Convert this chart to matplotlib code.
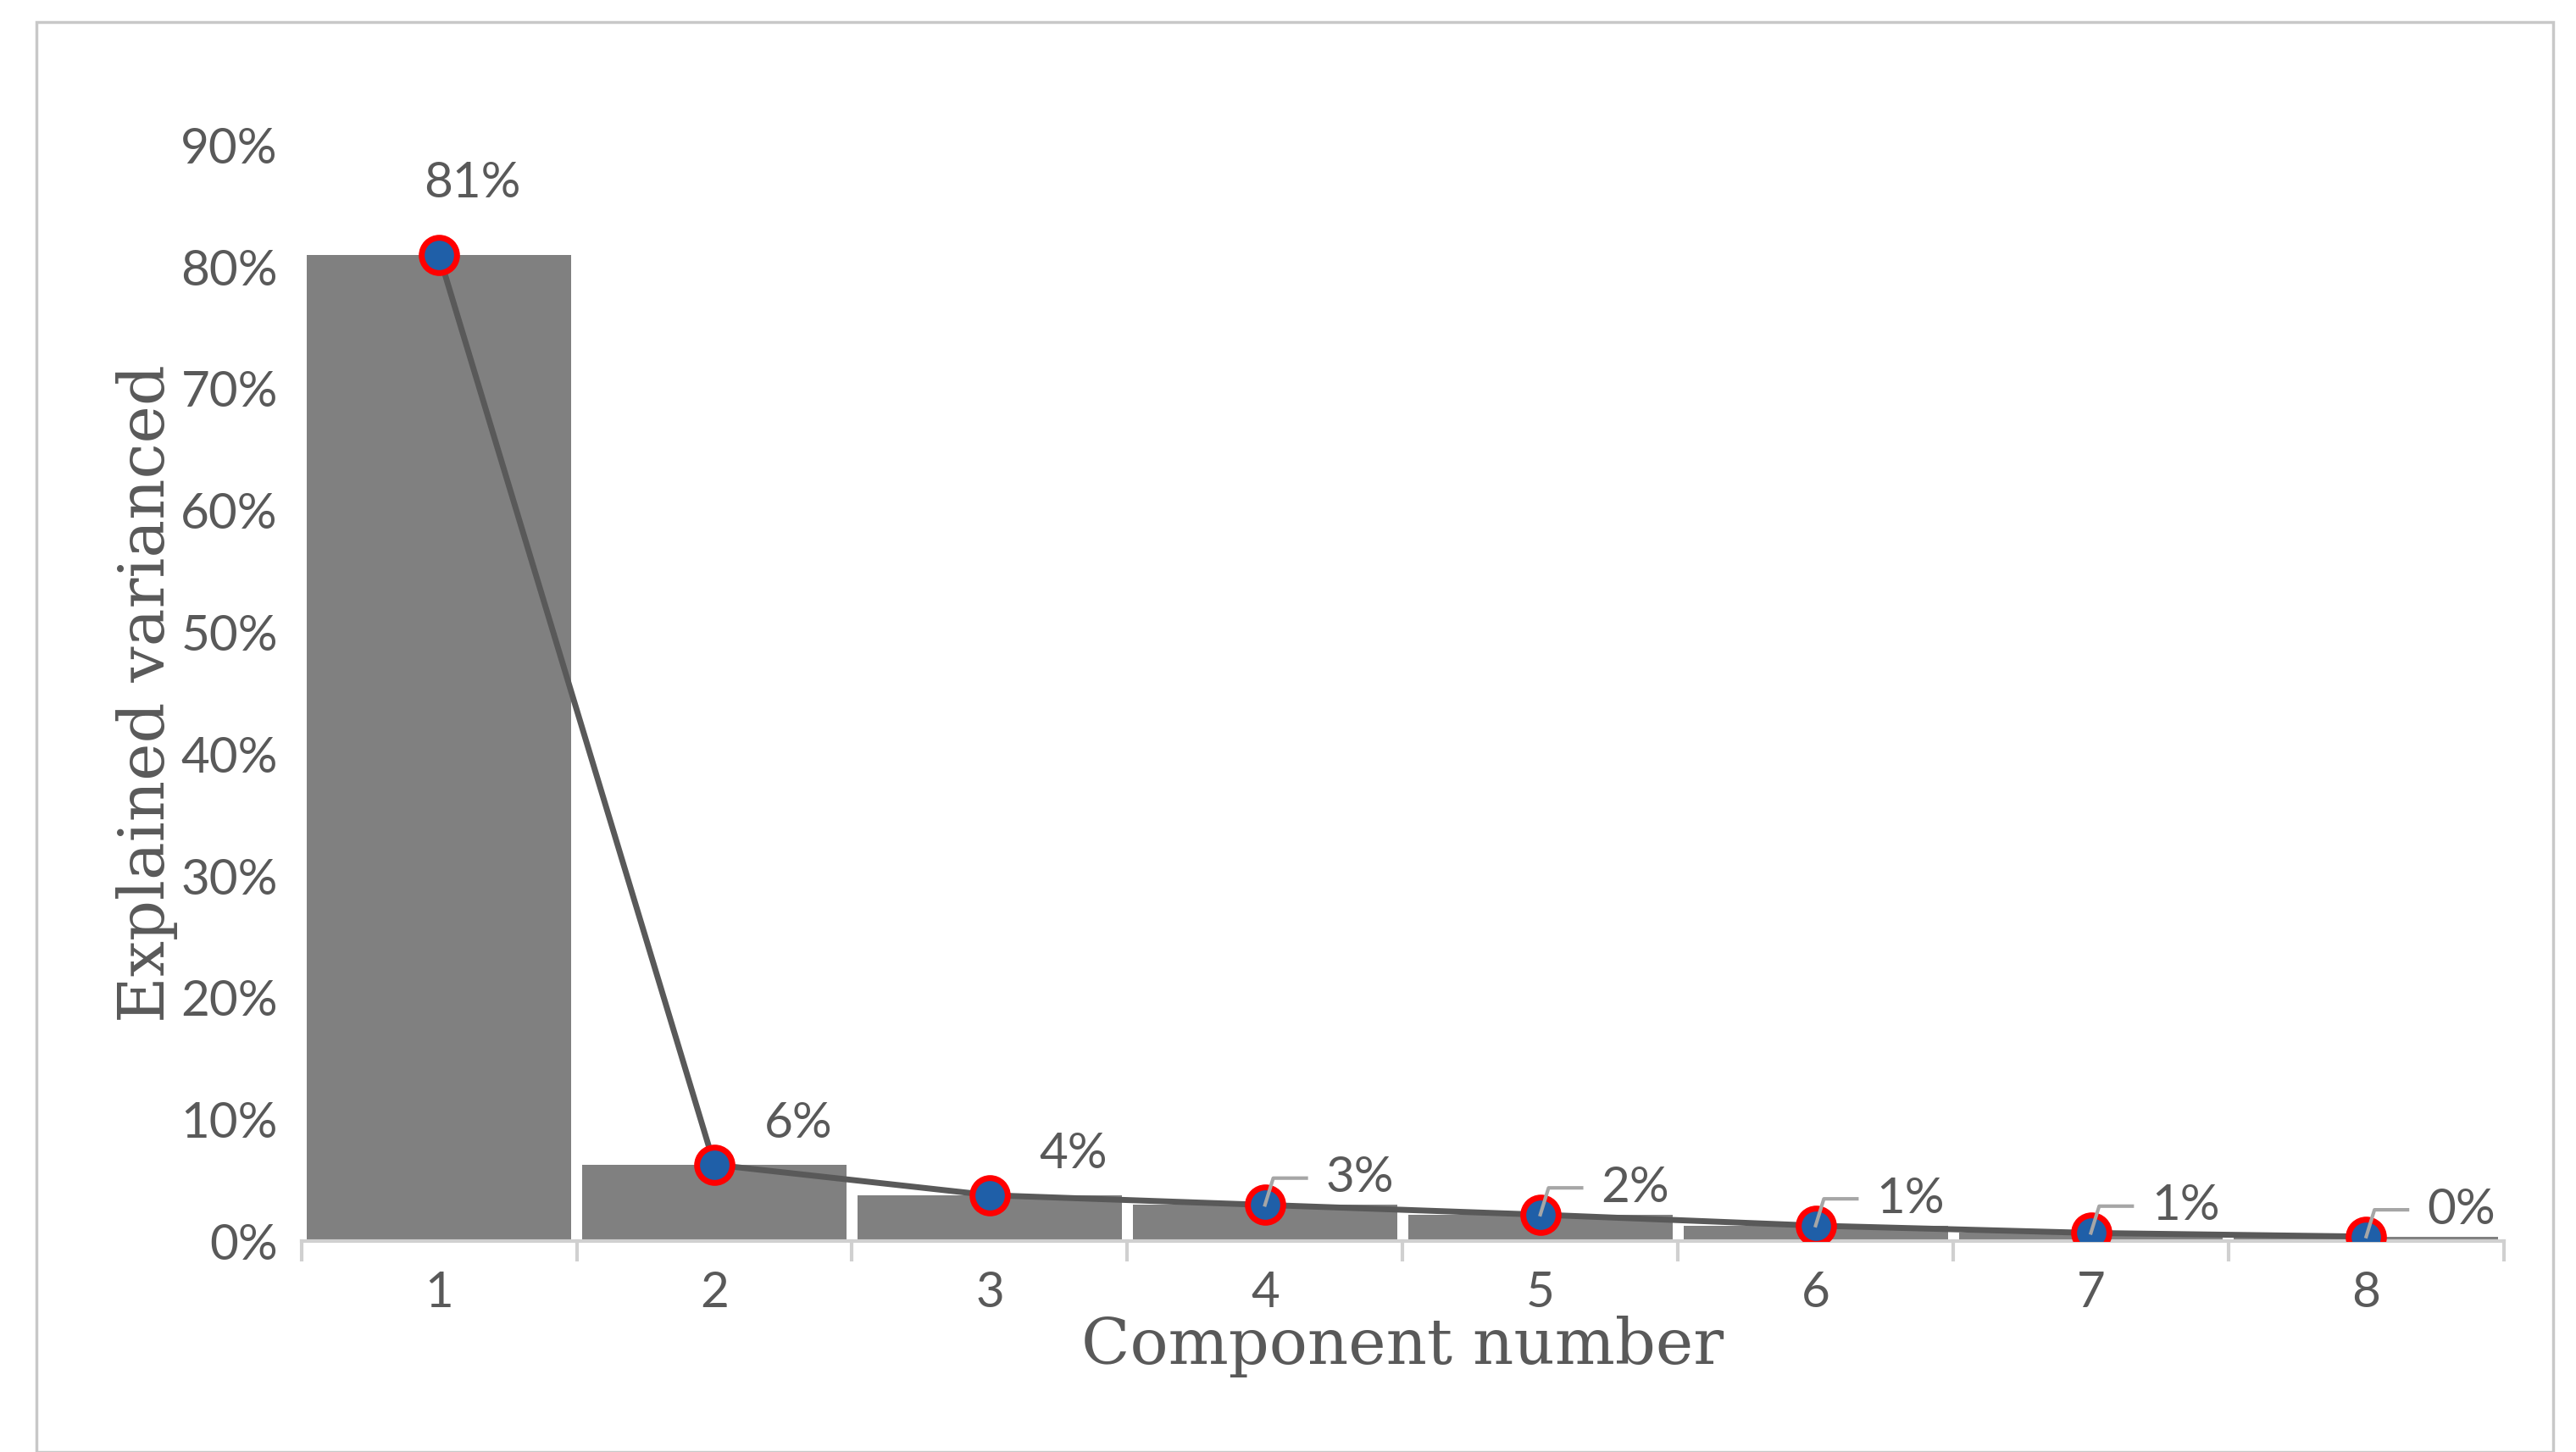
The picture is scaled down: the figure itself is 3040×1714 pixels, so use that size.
import matplotlib
matplotlib.use("Agg")
import matplotlib.pyplot as plt
from matplotlib.patches import Rectangle

components = [1, 2, 3, 4, 5, 6, 7, 8]
variance = [81.0, 6.3, 3.8, 3.0, 2.2, 1.3, 0.7, 0.4]
labels = ["81%", "6%", "4%", "3%", "2%", "1%", "1%", "0%"]
yticks = [0, 10, 20, 30, 40, 50, 60, 70, 80, 90]

fig = plt.figure(figsize=(30.4, 17.14), dpi=100)
fig.patches.append(Rectangle((0.014, 0.0), 0.977, 0.985, transform=fig.transFigure,
                             fill=False, edgecolor="#c8c8c8", linewidth=2.5))
ax = fig.add_axes([0.117, 0.145, 0.855, 0.755])
ax.bar(components, variance, width=0.96, color="#808080", zorder=1)
ax.plot(components, variance, color="#595959", linewidth=5, zorder=2)
ax.scatter(components, variance, s=900, facecolor="#1f5fa8", edgecolor="#ff0000",
           linewidth=5, zorder=3)
gray = "#595959"
for i, (x, v, t) in enumerate(zip(components, variance, labels)):
    if i == 0:
        ax.text(x + 0.12, v + 4, t, ha="center", va="bottom", fontsize=42, color=gray, family="Lato")
    elif i < 3:
        ax.text(x + 0.18, v + 1.5, t, ha="left", va="bottom", fontsize=42, color=gray, family="Lato")
    else:
        ax.plot([x, x + 0.03, x + 0.15], [v, v + 2.2, v + 2.2], color="#a6a6a6", lw=3, zorder=4)
        ax.text(x + 0.22, v + 2.2, t, ha="left", va="center", fontsize=42, color=gray, family="Lato")

ax.set_xlim(0.5, 8.5)
ax.set_ylim(0, 90)
ax.set_yticks(yticks)
ax.set_yticklabels([f"{t}%" for t in yticks])
ax.set_xticks(components)
for s in ["top", "right", "left"]:
    ax.spines[s].set_visible(False)
ax.spines["bottom"].set_color("#d0d0d0")
ax.spines["bottom"].set_linewidth(3)
ax.tick_params(axis="y", length=0, labelsize=42, labelcolor=gray, pad=20)
ax.tick_params(axis="x", length=0, labelsize=42, labelcolor=gray, pad=25)
for b in [0.5 + k for k in range(9)]:
    ax.plot([b, b], [0, -1.5], color="#d0d0d0", lw=3, clip_on=False)
for lab in ax.get_xticklabels() + ax.get_yticklabels():
    lab.set_family("Lato")
ax.set_xlabel("Component number", fontsize=54, color=gray, family="DejaVu Serif", labelpad=0)
ax.set_ylabel("Explained varianced", fontsize=54, color=gray, family="DejaVu Serif", labelpad=2)
fig.savefig("out.png", dpi=100)
